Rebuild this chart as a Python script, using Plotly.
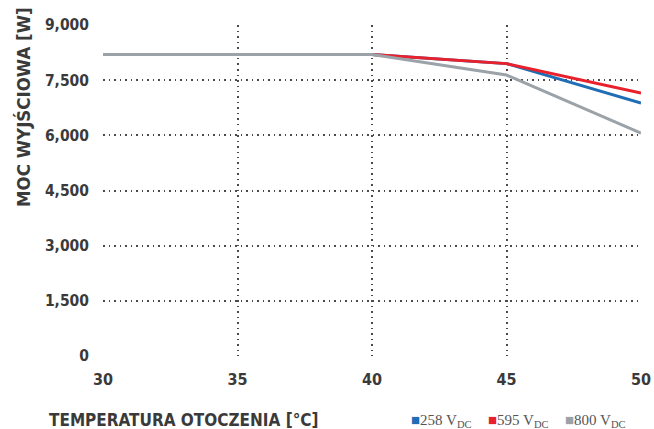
import plotly.graph_objects as go

temps = [30, 40, 45, 50]
s258 = [8200, 8200, 7950, 6880]
s595 = [8200, 8200, 7950, 7150]
s800 = [8200, 8200, 7640, 6060]

x_ticks = [30, 35, 40, 45, 50]
y_ticks = [0, 1500, 3000, 4500, 6000, 7500, 9000]

series = [
    ("258", s258, "#1f6db5"),
    ("595", s595, "#e8212c"),
    ("800", s800, "#9ba3a8"),
]

font_fam = "DejaVu Sans Condensed, Open Sans, sans-serif"
txt_col = "#3a3a3a"

fig = go.Figure()
for name, vals, col in series:
    fig.add_trace(go.Scatter(x=temps, y=vals, mode="lines", name=f"{name} V<sub>DC</sub>",
                             line=dict(color=col, width=3), showlegend=False))

grid = dict(showgrid=True, gridcolor="#4a4a4a", griddash="1.5px,4px", gridwidth=1.5,
            zeroline=False, showline=False, ticks="", automargin=False)
fig.update_layout(
    width=654, height=429,
    margin=dict(l=103, r=13, t=25, b=73),
    paper_bgcolor="white", plot_bgcolor="white",
    font=dict(family=font_fam, color=txt_col),
    xaxis=dict(range=[30, 50], tickvals=x_ticks,
               tickfont=dict(size=16, family=font_fam, color=txt_col, weight="bold"),
               ticklabelstandoff=12, **grid),
    yaxis=dict(range=[0, 9000], tickvals=y_ticks, tickformat=",d",
               tickfont=dict(size=15.5, family=font_fam, color=txt_col, weight="bold"),
               ticklabelstandoff=13, **grid),
)

fig.add_annotation(text="TEMPERATURA OTOCZENIA [°C]", xref="paper", yref="paper",
                   x=-(103 - 47) / 538, y=-(420 - 356) / 331, xanchor="left", yanchor="middle",
                   showarrow=False, font=dict(size=17, family=font_fam, color=txt_col, weight="bold"))
fig.add_annotation(text="MOC WYJŚCIOWA [W]", xref="paper", yref="paper",
                   x=-(103 - 23) / 538, y=(356 - 107) / 331, xanchor="center", yanchor="middle",
                   textangle=-90, showarrow=False,
                   font=dict(size=18.5, family=font_fam, color=txt_col, weight="bold"))

leg_x = [409, 486, 563]
for (name, vals, col), lx in zip(series, leg_x):
    fig.add_annotation(
        text=f"<span style='color:{col}'>■</span>{name} V<sub>DC</sub>",
        xref="paper", yref="paper", x=(lx - 103) / 538, y=-(421 - 356) / 331,
        xanchor="left", yanchor="middle", showarrow=False,
        font=dict(size=15, family="Liberation Serif, serif", color="#555555"))

fig.write_html("out.html", config={"displayModeBar": False},
               post_script="document.body.style.margin='0';")
